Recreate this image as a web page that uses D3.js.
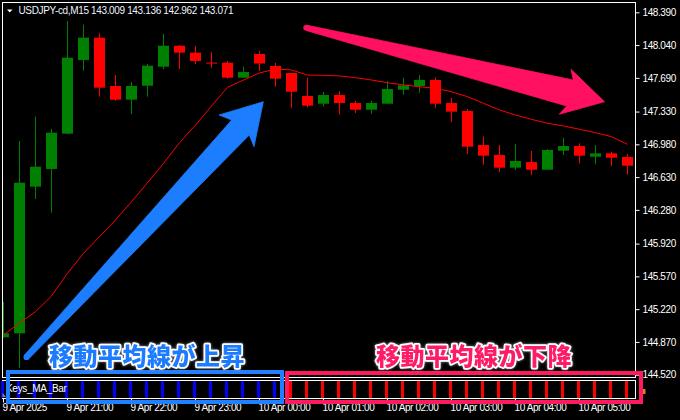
<!DOCTYPE html>
<html><head><meta charset="utf-8">
<script src="https://cdn.jsdelivr.net/npm/d3@7"></script>
<style>html,body{margin:0;padding:0;background:#000;} svg{display:block}</style>
</head><body>
<svg id="c" width="680" height="420"></svg>
<script>
// ---------- DATA ----------
const barTimes = ["9 Apr 20:00","9 Apr 20:15","9 Apr 20:30","9 Apr 20:45","9 Apr 21:00","9 Apr 21:15","9 Apr 21:30","9 Apr 21:45",
  "9 Apr 22:00","9 Apr 22:15","9 Apr 22:30","9 Apr 22:45","9 Apr 23:00","9 Apr 23:15","9 Apr 23:30","9 Apr 23:45",
  "10 Apr 00:00","10 Apr 00:15","10 Apr 00:30","10 Apr 00:45","10 Apr 01:00","10 Apr 01:15","10 Apr 01:30","10 Apr 01:45",
  "10 Apr 02:00","10 Apr 02:15","10 Apr 02:30","10 Apr 02:45","10 Apr 03:00","10 Apr 03:15","10 Apr 03:30","10 Apr 03:45",
  "10 Apr 04:00","10 Apr 04:15","10 Apr 04:30","10 Apr 04:45","10 Apr 05:00","10 Apr 05:15","10 Apr 05:30","10 Apr 05:45"];
const openP  = [144.919,144.962,146.528,146.717,147.094,147.881,148.119,147.603,147.457,147.606,147.809,148.033,147.959,147.853,147.852,147.692,147.945,147.817,147.742,147.496,147.414,147.507,147.421,147.350,147.414,147.563,147.603,147.667,147.421,147.336,146.973,146.866,146.731,146.791,146.709,146.912,146.962,146.848,146.884,146.845];
const highP  = [145.299,147.016,147.275,147.144,148.297,148.258,148.166,147.720,147.646,147.838,148.161,148.041,148.033,147.963,147.870,147.810,147.977,147.849,147.742,147.694,147.539,147.550,147.446,147.446,147.656,147.692,147.720,147.696,147.475,147.357,147.062,146.973,146.984,146.909,146.930,147.051,146.991,146.973,146.901,146.877];
const lowP   = [144.912,144.591,146.396,146.250,147.090,147.766,147.489,147.446,147.301,147.489,147.781,147.785,147.838,147.798,147.681,147.692,147.763,147.595,147.371,147.373,147.382,147.297,147.315,147.307,147.414,147.510,147.531,147.371,147.219,146.877,146.762,146.685,146.706,146.652,146.709,146.866,146.777,146.767,146.749,146.656];
const closeP = [144.962,146.570,146.741,147.104,147.905,148.119,147.585,147.457,147.603,147.820,148.033,147.959,147.870,147.851,147.692,147.752,147.843,147.681,147.542,147.393,147.507,147.421,147.350,147.421,147.571,147.610,147.667,147.414,147.329,146.955,146.859,146.731,146.802,146.709,146.920,146.962,146.859,146.884,146.837,146.752];
const maP    = [144.944,145.072,145.193,145.360,145.603,145.816,145.994,146.172,146.367,146.570,146.777,146.997,147.186,147.389,147.589,147.667,147.742,147.784,147.774,147.720,147.717,147.710,147.692,147.667,147.638,147.614,147.595,147.578,147.542,147.489,147.418,147.347,147.293,147.247,147.205,147.176,147.141,147.104,147.062,146.980];
const maTrend = [1,1,1,1,1,1,1,1,1,1,1,1,1,1,1,1,1,1,-1,-1,-1,-1,-1,-1,-1,-1,-1,-1,-1,-1,-1,-1,-1,-1,-1,-1,-1,-1,-1,-1];
const priceTicks = [148.390,148.040,147.690,147.330,146.980,146.630,146.280,145.920,145.570,145.220,144.870,144.520];
const timeTickIdx = [0,4,8,12,16,20,24,28,32,36];
const timeTickLabels = ["9 Apr 2025","9 Apr 21:00","9 Apr 22:00","9 Apr 23:00","10 Apr 00:00","10 Apr 01:00","10 Apr 02:00","10 Apr 03:00","10 Apr 04:00","10 Apr 05:00"];
const titleText = "USDJPY-cd,M15  143.009 143.136 142.962 143.071";
const subTitle = "Keys_MA_Bar";
const upLabel = "移動平均線が上昇";
const downLabel = "移動平均線が下降";
// annotation arrows in [bar index, price]
const upArrow = [[1.325,144.730],[14.275,147.240],[13.481,147.293],[16.25,147.435],[15.669,146.955],[15.375,147.080],[1.5625,144.684]];
const downArrow = [[18.919,148.254],[35.625,147.667],[35.481,147.781],[37.575,147.435],[34.75,147.301],[35.2125,147.389],[18.919,148.196]];

// ---------- LAYOUT ----------
const svg = d3.select("#c");
svg.append("rect").attr("width",680).attr("height",420).attr("fill","#000");
const x = d3.scaleLinear().domain([0,39]).range([3.3,627.3]);
const y = d3.scaleLinear().domain([144.52,148.39]).range([374.7,12.3]);
const FONT = "'Liberation Sans', Arial, sans-serif";
const GREEN = "#008000", RED = "#ff0000";

const defs = svg.append("defs");
defs.append("clipPath").attr("id","mainClip").append("rect").attr("x",3).attr("y",3).attr("width",632).attr("height",374);
const glow = defs.append("filter").attr("id","glow").attr("x","-20%").attr("y","-40%").attr("width","140%").attr("height","180%");
glow.append("feDropShadow").attr("dx",0).attr("dy",0).attr("stdDeviation",1.6).attr("flood-color","#9a9a9a").attr("flood-opacity",0.9);

const data = barTimes.map((t,i)=>({t,i,o:openP[i],h:highP[i],l:lowP[i],c:closeP[i],ma:maP[i],tr:maTrend[i]}));

// candles
const main = svg.append("g").attr("clip-path","url(#mainClip)");
const cg = main.selectAll("g.c").data(data).join("g");
cg.append("line")
  .attr("x1",d=>Math.round(x(d.i))+0.5).attr("x2",d=>Math.round(x(d.i))+0.5)
  .attr("y1",d=>y(d.h)).attr("y2",d=>y(d.l))
  .attr("stroke",d=>d.c>=d.o?GREEN:RED).attr("stroke-width",1);
cg.append("rect")
  .attr("x",d=>Math.round(x(d.i))-5).attr("width",11)
  .attr("y",d=>y(Math.max(d.o,d.c)))
  .attr("height",d=>Math.max(1,Math.abs(y(d.o)-y(d.c))))
  .attr("fill",d=>d.c>=d.o?GREEN:RED);

// MA line
main.append("path").datum(data)
  .attr("d",d3.line().x(d=>Math.round(x(d.i))+0.5).y(d=>y(d.ma)))
  .attr("fill","none").attr("stroke",RED).attr("stroke-width",1);

// frames
svg.append("rect").attr("x",2.5).attr("y",2.5).attr("width",633).attr("height",375).attr("fill","none").attr("stroke","#fff");
svg.append("rect").attr("x",2.5).attr("y",380.5).attr("width",633).attr("height",18).attr("fill","none").attr("stroke","#fff");

// title
svg.append("path").attr("d","M7,9.5 L12.5,9.5 L9.75,12.5 Z").attr("fill","#fff");
svg.append("text").attr("x",18.5).attr("y",14).attr("fill","#eef4ff")
  .attr("font-family",FONT).attr("font-size",10).attr("letter-spacing",-0.35).text(titleText);

// right axis
const ya = svg.append("g").attr("transform","translate(635.5,0)")
  .call(d3.axisRight(y).tickValues(priceTicks).tickFormat(d3.format(".3f")).tickSize(4).tickPadding(3));
ya.select(".domain").remove();
ya.selectAll("line").attr("stroke","#fff");
ya.selectAll("text").attr("fill","#fff").attr("font-family",FONT).attr("font-size",10).attr("letter-spacing",-0.4);

// bottom axis
const xa = svg.append("g").attr("transform","translate(0,398.5)")
  .call(d3.axisBottom(x).tickValues(timeTickIdx).tickFormat((d,i)=>timeTickLabels[i]).tickSize(4).tickPadding(2));
xa.select(".domain").remove();
xa.selectAll(".tick").attr("transform",d=>`translate(${Math.round(x(d))+0.5},0)`);
xa.selectAll("line").attr("stroke","#fff");
xa.selectAll("text").attr("fill","#fff").attr("font-family",FONT).attr("font-size",10)
  .attr("letter-spacing",-0.4).attr("text-anchor","start").attr("dx",-1).attr("dy","0.62em");

// sub window
svg.append("g").selectAll("rect").data(data).join("rect")
  .attr("x",d=>Math.round(x(d.i))-2).attr("width",3).attr("y",381).attr("height",17)
  .attr("fill",d=>d.tr>0?"#0000ff":"#ff0000");
svg.append("text").attr("x",6).attr("y",392).attr("fill","#fff").attr("font-family",FONT).attr("font-size",10).attr("letter-spacing",-0.3).text(subTitle);
svg.append("path").attr("d","M2.5,393 L6,397 L2.5,397 Z").attr("fill","#888");
svg.append("rect").attr("x",643).attr("y",389).attr("width",2.5).attr("height",5).attr("fill","#e08020");

// annotation boxes
svg.append("rect").attr("x",8).attr("y",372).attr("width",274).attr("height",30).attr("fill","none").attr("stroke","#2080ff").attr("stroke-width",4);
svg.append("rect").attr("x",287).attr("y",373).attr("width",354).attr("height",29).attr("fill","none").attr("stroke","#ff1a60").attr("stroke-width",4);

// arrows
const arrowLine = d3.line().x(p=>x(p[0])).y(p=>y(p[1]));
function drawArrow(pts,color){
  svg.append("path").attr("d",arrowLine(pts)+"Z").attr("fill",color).attr("stroke",color).attr("stroke-width",0.8).attr("stroke-linejoin","round");
  const a=pts[0], b=pts[pts.length-1];
  const cx=(x(a[0])+x(b[0]))/2, cy=(y(a[1])+y(b[1]))/2;
  const r=Math.hypot(x(a[0])-x(b[0]),y(a[1])-y(b[1]))/2;
  svg.append("circle").attr("cx",cx).attr("cy",cy).attr("r",r).attr("fill",color);
}
drawArrow(upArrow,"#1c7dff");
drawArrow(downArrow,"#ff1060");

// labels
function label(txt,xp,color){
  svg.append("text").attr("x",xp).attr("y",354).attr("dominant-baseline","central")
    .attr("font-family","'Noto Sans CJK JP', sans-serif").attr("font-weight",900).attr("font-size",24)
    .attr("letter-spacing",0.5)
    .attr("fill",color).attr("stroke","#fff").attr("stroke-width",3.5).attr("paint-order","stroke")
    .attr("stroke-linejoin","round").attr("filter","url(#glow)").text(txt);
}
label(upLabel,49,"#1f7cff");
label(downLabel,376,"#ff1a66");
</script>
</body></html>
